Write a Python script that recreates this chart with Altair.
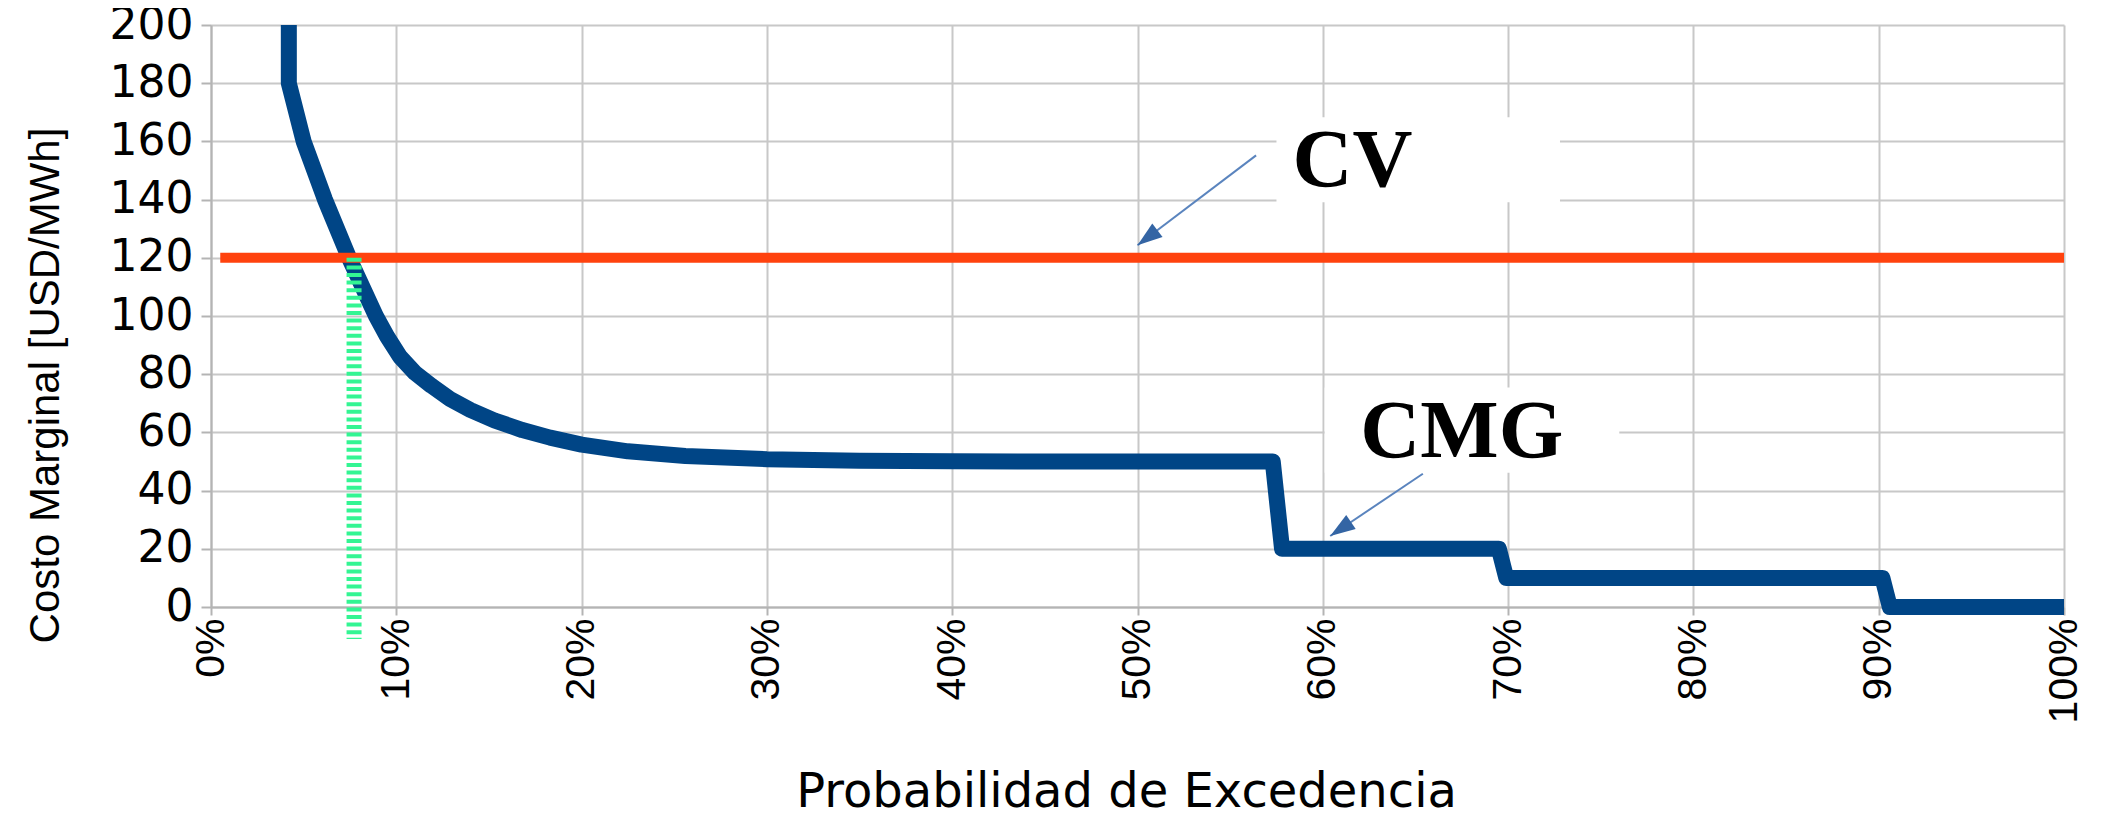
import altair as alt
import pandas as pd

# --- data ---
# CMG curve: probability of exceedance (fraction) vs marginal cost (USD/MWh)
cmg_prob = [0.042, 0.042, 0.050, 0.0615, 0.0745, 0.089, 0.095, 0.102, 0.110, 0.119,
            0.129, 0.140, 0.153, 0.168, 0.183, 0.200, 0.225, 0.256, 0.300, 0.350,
            0.400, 0.450, 0.573, 0.578, 0.695, 0.699, 0.902, 0.906, 1.000]
cmg_cost = [200, 180, 160, 140, 120, 100, 93, 86, 80.5, 76,
            71.5, 67.7, 64.1, 60.8, 58.2, 55.8, 53.5, 51.9, 50.8, 50.3,
            50.1, 50, 50, 20, 20, 10, 10, 0, 0]

# CV (variable cost) horizontal line
cv_cost = 120
cv_prob_start = 0.005
cv_prob_end = 1.0

# dotted cut line where CMG crosses CV
cut_prob = 0.0772
cut_cost_top = 120
cut_cost_bottom = -11

x_ticks = [0.0, 0.1, 0.2, 0.3, 0.4, 0.5, 0.6, 0.7, 0.8, 0.9, 1.0]
y_ticks = [0, 20, 40, 60, 80, 100, 120, 140, 160, 180, 200]

# annotations (data coordinates)
ann_text = ["CV", "CMG"]
ann_text_prob = [0.616, 0.675]
ann_text_cost = [144.6, 51.6]
ann_box_prob = [0.575, 0.601]
ann_box_prob2 = [0.728, 0.760]
ann_box_cost = [168.3, 75.4]
ann_box_cost2 = [139.1, 46.1]
arrow_prob_start = [0.564, 0.654]
arrow_cost_start = [155.2, 45.8]
arrow_prob_tip = [0.500, 0.604]
arrow_cost_tip = [124.3, 24.4]
arrow_angle = [232.8, 236.1]

# --- tables ---
cmg_df = pd.DataFrame({"p": cmg_prob, "c": cmg_cost, "i": list(range(len(cmg_prob)))})
cv_df = pd.DataFrame({"p": [cv_prob_start], "p2": [cv_prob_end], "c": [cv_cost]})
cut_df = pd.DataFrame({"p": [cut_prob], "c": [cut_cost_top], "c2": [cut_cost_bottom]})
text_df = pd.DataFrame({"t": ann_text, "p": ann_text_prob, "c": ann_text_cost})
box_df = pd.DataFrame({"p": ann_box_prob, "p2": ann_box_prob2, "c": ann_box_cost, "c2": ann_box_cost2})
arrow_df = pd.DataFrame({"p": arrow_prob_start, "c": arrow_cost_start,
                         "p2": arrow_prob_tip, "c2": arrow_cost_tip, "a": arrow_angle})

GRID = "#c8c8c8"
AXC = "#b4b4b4"

x_axis = alt.Axis(
    values=x_ticks, format=".0%", labelAngle=-90, labelFont="Liberation Sans",
    labelFontSize=41, labelColor="black", labelPadding=3, labelFlush=False,
    labelOverlap=False, tickSize=8, tickWidth=2, tickColor=AXC,
    domainColor=AXC, domainWidth=2, gridColor=GRID, gridWidth=2,
    title="Probabilidad de Excedencia", titleFont="DejaVu Sans", titleFontSize=48,
    titleFontWeight="normal", titleColor="black", titleX=915, titleY=199,
    titleAlign="center", titleBaseline="alphabetic",
)
y_axis = alt.Axis(
    values=y_ticks, labelFont="DejaVu Sans", labelFontSize=44, labelColor="black",
    labelPadding=8, labelFlush=False, labelOverlap=False, tickSize=10, tickWidth=2,
    tickColor=AXC, domainColor=AXC, domainWidth=2, gridColor=GRID, gridWidth=2,
    title="Costo Marginal [USD/MWh]", titleFont="Liberation Sans", titleFontSize=42,
    titleFontWeight="normal", titleColor="black", titleX=-153, titleY=360,
    titleAngle=270, titleAlign="center", titleBaseline="alphabetic",
)
xs = alt.Scale(domain=[0, 1], nice=False, zero=False)
ys = alt.Scale(domain=[0, 200], nice=False, zero=False)


def X(f="p"):
    return alt.X(f"{f}:Q", scale=xs, axis=x_axis)


def Y(f="c"):
    return alt.Y(f"{f}:Q", scale=ys, axis=y_axis)


boxes = alt.Chart(box_df).mark_rect(color="white", opacity=1).encode(
    x=X(), x2="p2:Q", y=Y(), y2="c2:Q")

cmg_line = alt.Chart(cmg_df).mark_line(
    color="#004586", strokeWidth=16, strokeJoin="round", strokeCap="butt"
).encode(x=X(), y=Y(), order="i:Q")

cv_line = alt.Chart(cv_df).mark_rule(color="#ff420e", strokeWidth=10, strokeCap="butt").encode(
    x=X(), x2="p2:Q", y=Y())

cut_line = alt.Chart(cut_df).mark_rule(
    color="#33f593", strokeWidth=15, strokeDash=[4, 3.6], strokeCap="butt"
).encode(x=X(), y=Y(), y2="c2:Q")

arrow_lines = alt.Chart(arrow_df).mark_rule(color="#5a84be", strokeWidth=2).encode(
    x=X(), y=Y(), x2="p2:Q", y2="c2:Q")

arrow_heads = alt.Chart(arrow_df).mark_point(
    shape="M0,0 L-0.68,2 L0.68,2 Z", filled=True, size=625, color="#3465a4",
    opacity=1, strokeWidth=0
).encode(x=X("p2"), y=Y("c2"), angle=alt.Angle("a:Q", scale=None))

texts = alt.Chart(text_df).mark_text(
    font="Liberation Serif", fontWeight="bold", fontSize=83, color="black",
    align="center", baseline="alphabetic"
).encode(x=X(), y=Y(), text="t:N")

chart = alt.layer(boxes, cmg_line, cv_line, cut_line, arrow_lines, arrow_heads, texts).properties(
    width=1853, height=582,
    autosize=alt.AutoSizeParams(type="none"),
    padding={"left": 203, "top": 17, "right": 36, "bottom": 211},
    background="white",
).configure_view(strokeWidth=0)

chart.save("out.html", embed_options={"renderer": "svg", "actions": False})
